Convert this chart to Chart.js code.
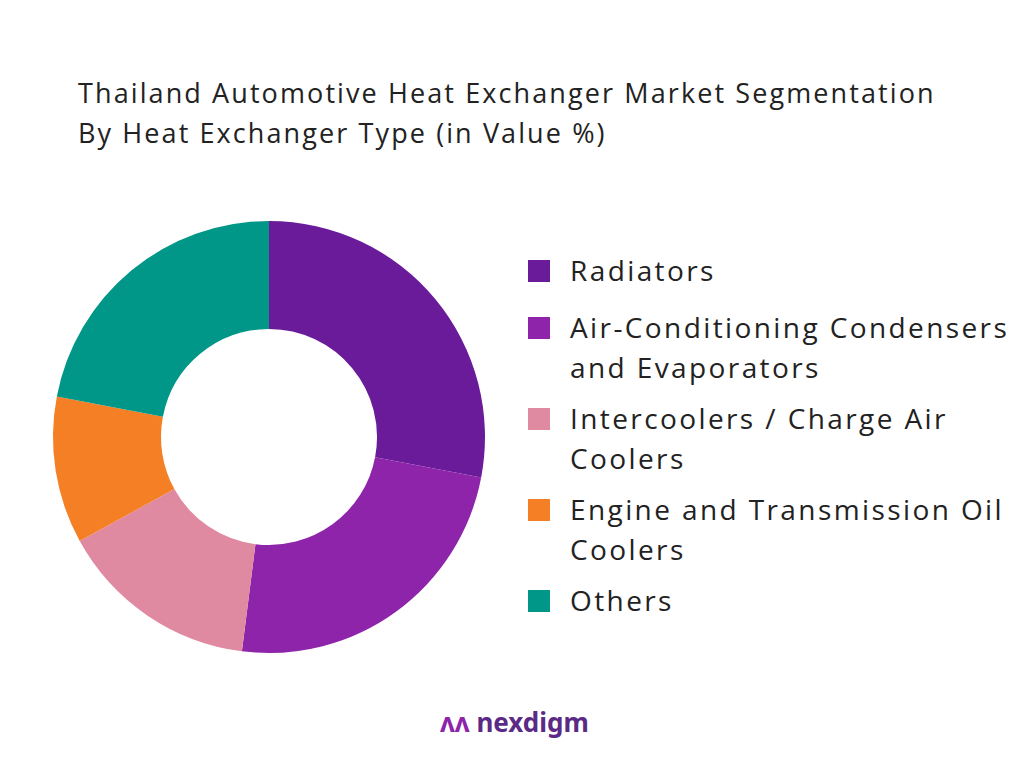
<!DOCTYPE html>
<html><head><meta charset="utf-8">
<script src="https://cdn.jsdelivr.net/npm/chart.js@4"></script>
<style>
body{margin:0;width:1024px;height:768px;background:#fff;font-family:"Open Sans",sans-serif;position:relative;overflow:hidden}
#title{position:absolute;left:78px;top:73px;font-size:27px;line-height:40px;color:#222;letter-spacing:2.1px;white-space:nowrap}
#wrap{position:absolute;left:49px;top:217px;width:440px;height:440px}
#legend{position:absolute;left:528px;top:250px;font-size:28px;color:#222;line-height:40px;letter-spacing:2.4px;white-space:nowrap}
.item{display:flex;align-items:flex-start;margin-bottom:11px}
.item:first-child{margin-bottom:17px}
.sw{width:22px;height:22px;margin-top:10px;margin-right:20px;flex:none}
#logo{position:absolute;left:440px;top:704px;font-size:26px;font-weight:bold;color:#5b2a86;font-family:"Noto Sans",sans-serif}
</style></head><body>
<div id="title">Thailand Automotive Heat Exchanger Market Segmentation<br>By Heat Exchanger Type (in Value %)</div>
<div id="wrap"><canvas id="c"></canvas></div>
<div id="legend"></div>
<div id="logo"><span style="color:#8e24aa">ʌʌ</span> nexdigm</div>
<script>
const categories=["Radiators","Air-Conditioning Condensers\nand Evaporators","Intercoolers / Charge Air\nCoolers","Engine and Transmission Oil\nCoolers","Others"];
const values=[28,24,15,11,22];
const colors=["#6a1b9a","#8e24aa","#e08aa2","#f57f24","#009688"];
const lg=document.getElementById('legend');
categories.forEach((c,i)=>{const d=document.createElement('div');d.className='item';
d.innerHTML='<div class="sw" style="background:'+colors[i]+'"></div><div>'+c.replace('\n','<br>')+'</div>';lg.appendChild(d);});
new Chart(document.getElementById('c'),{type:'doughnut',
data:{labels:categories,datasets:[{data:values,backgroundColor:colors,borderWidth:0}]},
options:{responsive:true,maintainAspectRatio:false,cutout:'50%',animation:false,layout:{padding:4},
plugins:{legend:{display:false},tooltip:{enabled:false}}}});
</script></body></html>
